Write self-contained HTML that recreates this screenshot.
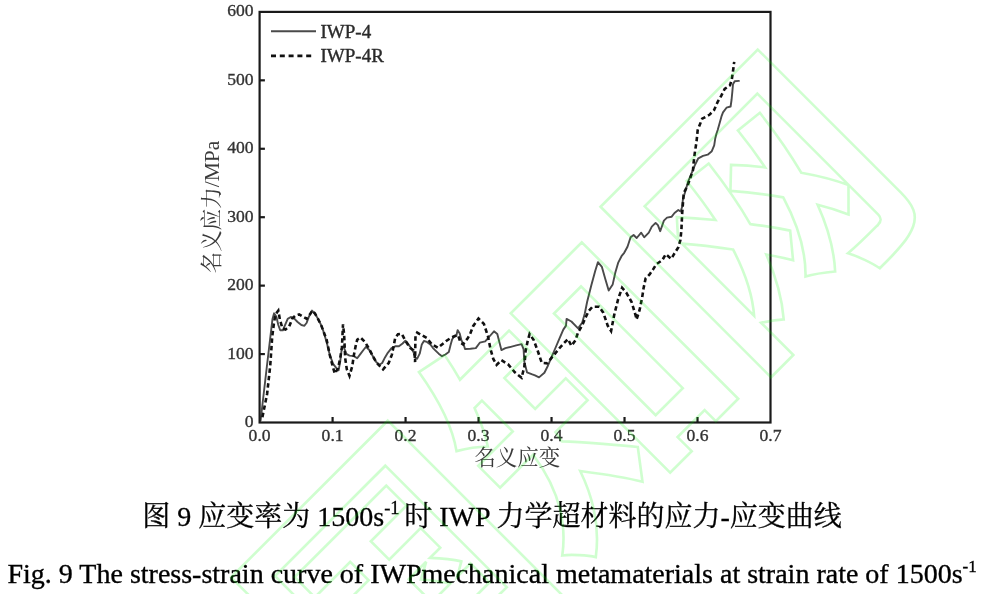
<!DOCTYPE html>
<html><head><meta charset="utf-8"><style>
html,body{margin:0;padding:0;background:#fff;}
body{width:985px;height:594px;overflow:hidden;position:relative;}
svg{position:absolute;left:0;top:0;}
.t{font-family:"Liberation Serif","Noto Serif CJK SC",serif;}
</style></head><body>
<svg width="985" height="594" viewBox="0 0 985 594">
<g fill="none" stroke="#4a4a4a" stroke-width="1.9" stroke-linejoin="round" stroke-linecap="round">
<polyline points="260.6,420.5 266.8,367 272.5,318.9 274.1,313.3 276.4,316.7 278.3,325 280.2,330.3 282.8,330.3 284.7,325.8 287.7,318.9 290.8,317 293.8,318.2 297.6,322 301.4,325 304.4,325.8 306.7,322.7 308.9,316.7 312,310.6 315,313.6 318,318.9 321.1,325 323.3,330.9 326.6,341.9 329.8,355 333.1,363.8 336.4,368.1 338.6,370.3 340.2,361.6 341.9,347.4 343.5,346.3 346.3,353.9 349.5,355.6 353.9,356.1 357.2,358.3 360.5,353.9 363.8,349.5 366,346.8 369.3,350 373,356.5 376.2,362 379.4,364.8 382.2,363 385,357.4 387.8,352.8 391.5,348.1 395.2,346.3 398.9,346.3 402.6,343.5 405.4,340.7 408.4,344.4 410.9,347.8 413.4,352 415.5,357.9 417.2,358.7 419.7,353.7 421.8,344.4 423.9,341 426.9,341.9 430.3,344.4 432.8,347.8 435.3,350.3 438.7,353.7 442,356.2 445.4,354.5 448.8,352 450.5,345.3 452.1,339.4 453.8,336.8 456.3,336 457.6,330.1 459.7,333.5 461.4,340.2 463.9,345.3 465,349 470.4,348.8 475.8,348.1 479.8,342.7 485.2,341.4 489.9,336 494,331.3 497.3,334 501.4,350.1 505.4,348.1 510.8,346.8 516.2,345.4 521.6,344.1 523.6,349.4 524.3,361.6 527,372.3 532.3,374.4 535,375.4 539,377.4 544.4,372.7 547.8,366 551.2,357.9 555.2,348.5 559.2,339.1 563.3,329.6 566,325.6 566.6,318.9 571.4,321.5 578.1,328.3 582.1,322.9 584.8,313.5 587.1,302 591.2,285.8 595.2,271 597.9,262.2 601.9,266.9 605.3,279.1 608.7,290.5 612.7,284.4 615.4,272.3 618.1,262.9 621.5,256.2 624.2,252.8 627.5,246.7 630.6,237.3 633.6,235 636.7,238 641.2,232.7 644.2,237.3 648.8,232.7 651.8,226.7 655.6,222.9 657.9,225.2 660.2,231.2 663.9,220.6 667,217.6 671.5,216.8 674.5,213 678.3,210 680.6,211.5 682.1,207 682.9,199.4 685.2,191.8 688,182 692.4,171.2 695.3,164.2 698.3,158.3 703,155.9 707.7,154.7 711.8,151.2 714.2,145.3 715.3,138.2 716.5,133.5 717.7,130 721.4,116.7 723,112.4 726.5,107.7 730.6,106.5 731.6,99.5 732.4,91.2 733,84.2 734.7,81.2 738.9,80.9"/>
</g>
<g fill="none" stroke="#111" stroke-width="2.6" stroke-dasharray="4.5 3">
<polyline points="262.4,417.2 267.1,394 270.2,366 272.2,337 274.2,321 275.8,314 278.3,310.6 279.8,318.9 282.4,328.5 285.5,329.5 289.2,326.5 292.3,318.6 295.3,315.7 299.1,314.4 302.9,316.7 306.7,318.9 310.5,313.6 312.3,310.6 315,313.6 318,318.9 321.1,325 323.3,330.9 326.6,339.7 329.8,355 332.6,366 334.8,373.6 338.1,368.1 340.2,358.3 341.9,347.4 343,324.4 344.1,334.2 345.2,358.3 346.8,369.2 349.5,375.8 352.3,366 353.9,355 355.6,346.3 357.2,339.7 360.5,337.5 364.9,341.9 369.3,349.1 373,356.5 376.7,363 379.4,365.7 383.1,369.4 388.7,363 391.9,354.6 393.8,345.4 395.2,338 398,334.3 401.7,333.8 405.4,340.7 410,347.8 413.4,350.3 414.7,355.4 415.1,362.1 415.3,345.3 415.5,336 417.2,332.6 421.8,335.2 426.9,338.1 431.9,344.4 437.8,347.8 442,344.4 446.2,341 450.5,338.1 454.7,336 458,335.2 460.6,342.7 463.1,344.4 465.5,341 467.7,338.3 470.4,333.3 473.1,326.2 478.5,318.5 483.9,323.9 487.9,336 490.6,349.4 493.3,358.9 496.6,364.9 501.4,360.2 508.1,364.3 514.8,372.3 521.6,377.7 524.3,367 525.6,350.8 527.6,341.4 529.6,334 533.7,340 537.7,350.8 541.8,362.9 547.1,363.3 552.5,356.6 559.2,348.5 564,343.1 568,339.1 571.4,345.8 575.4,340.4 578.1,332.3 582.1,325.6 585.5,317.5 588.9,310.8 592.5,306.7 599.2,306.7 603.3,312.7 607.7,325.6 611.1,331 614.1,315.4 618.1,299.3 622.1,287.8 626.2,292.5 631.6,302 635.6,315.4 636.5,319.5 639.6,310 642.3,296.6 643.5,288.6 645.6,278.5 649.6,274.4 653.1,269.4 656.2,264.3 662.2,260.3 665.8,254.2 671.3,258.8 674.3,253.7 678.4,247.2 680.4,240.1 681.4,230 682.1,214.5 682.9,203.9 683.6,194.8 684.7,191.2 687.7,185.4 690.6,177.1 693,170 693.6,163 694.7,153.6 696.5,141.8 697.7,130 702.2,118.7 709.4,114.8 714.1,110.1 717.7,101.8 721.2,95.9 724.7,88.9 730,85.3 731.8,79.4 733,71.2 734.2,61.8"/>
</g>
<g stroke="#1a1a1a" stroke-width="2.2" fill="none">
<rect x="259.6" y="11.9" width="510.90" height="410.60"/>
<line x1="259.60" y1="354.07" x2="264.90" y2="354.07"/><line x1="259.60" y1="285.63" x2="264.90" y2="285.63"/><line x1="259.60" y1="217.20" x2="264.90" y2="217.20"/><line x1="259.60" y1="148.77" x2="264.90" y2="148.77"/><line x1="259.60" y1="80.33" x2="264.90" y2="80.33"/><line x1="332.59" y1="422.50" x2="332.59" y2="417.00"/><line x1="405.57" y1="422.50" x2="405.57" y2="417.00"/><line x1="478.56" y1="422.50" x2="478.56" y2="417.00"/><line x1="551.54" y1="422.50" x2="551.54" y2="417.00"/><line x1="624.53" y1="422.50" x2="624.53" y2="417.00"/><line x1="697.51" y1="422.50" x2="697.51" y2="417.00"/>
</g>
<g class="t" font-size="17.6" fill="#333" stroke="#333" stroke-width="0.35">
<text x="253.6" y="427.00" text-anchor="end">0</text><text x="253.6" y="358.57" text-anchor="end">100</text><text x="253.6" y="290.13" text-anchor="end">200</text><text x="253.6" y="221.70" text-anchor="end">300</text><text x="253.6" y="153.27" text-anchor="end">400</text><text x="253.6" y="84.83" text-anchor="end">500</text><text x="253.6" y="16.40" text-anchor="end">600</text>
<text x="259.60" y="441.2" text-anchor="middle">0.0</text><text x="332.59" y="441.2" text-anchor="middle">0.1</text><text x="405.57" y="441.2" text-anchor="middle">0.2</text><text x="478.56" y="441.2" text-anchor="middle">0.3</text><text x="551.54" y="441.2" text-anchor="middle">0.4</text><text x="624.53" y="441.2" text-anchor="middle">0.5</text><text x="697.51" y="441.2" text-anchor="middle">0.6</text><text x="770.50" y="441.2" text-anchor="middle">0.7</text>
</g>
<g stroke="#4a4a4a" stroke-width="2"><line x1="271" y1="31.3" x2="316" y2="31.3"/></g>
<g stroke="#111" stroke-width="2.8" stroke-dasharray="5 3.8"><line x1="271" y1="55.9" x2="313" y2="55.9"/></g>
<g class="t" font-size="19" fill="#2a2a2a" stroke="#2a2a2a" stroke-width="0.4">
<text x="320.5" y="37.5">IWP-4</text>
<text x="320.5" y="62">IWP-4R</text>
</g>
<text class="t" font-size="21.5" fill="#3a3a3a" x="517.3" y="464.5" text-anchor="middle">名义应变</text>
<text class="t" font-size="21.5" fill="#3a3a3a" transform="translate(219 207) rotate(-90)" text-anchor="middle">名义应力/MPa</text>
<text class="t" font-size="28" fill="#000" stroke="#000" stroke-width="0.3" x="142.3" y="526.3">图 9 应变率为 1500s<tspan font-size="18.5" dy="-12">-1</tspan><tspan dy="12"> </tspan><tspan dx="-2.5">时</tspan> IWP 力学超材料的应力-应变曲线</text>
<text class="t" font-size="28" fill="#000" stroke="#000" stroke-width="0.35" x="7.5" y="583">Fig. 9 The stress-strain curve of IWPmechanical metamaterials at strain rate of 1500s<tspan font-size="17" dy="-11">-1</tspan></text>
<g transform="translate(183.6 930.8) rotate(-45) scale(0.997 1.04)" font-family="'Liberation Sans', 'Noto Sans CJK SC', sans-serif" font-weight="700" font-size="263" fill="none" stroke="rgb(0,250,0)" stroke-opacity="0.19" stroke-width="2.6"><text x="0" y="0">中</text><text x="264.4" y="5">国</text><text x="529" y="3.3">知</text><text x="789" y="0">网</text></g>
</svg>
</body></html>
